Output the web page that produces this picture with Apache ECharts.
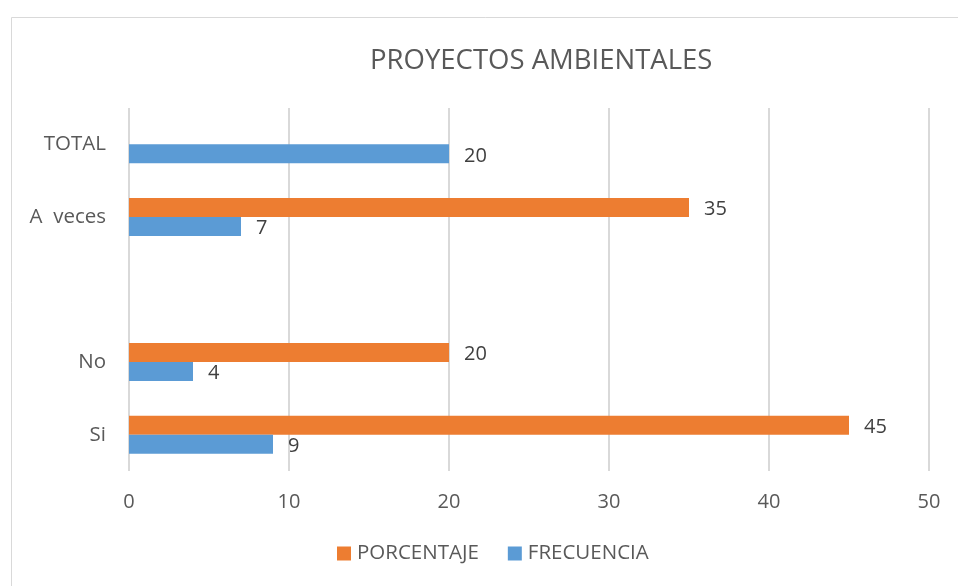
<!DOCTYPE html>
<html>
<head>
<meta charset="utf-8">
<script src="https://cdn.jsdelivr.net/npm/echarts@6/dist/echarts.min.js"></script>
<style>
html,body{margin:0;padding:0;background:#fff;}
#chart{width:958px;height:586px;}
</style>
</head>
<body>
<div id="chart"></div>
<script>
var titleText = 'PROYECTOS AMBIENTALES';
var categories = ['Si', 'No', '', 'A  veces', 'TOTAL'];
var porcentaje = [45, 20, '-', 35, '-'];
var frecuencia = [9, 4, '-', 7, 20];
var xTicks = [0, 10, 20, 30, 40, 50];

var chart = echarts.init(document.getElementById('chart'));
var FONT = 'Open Sans';
var labelCfg = {
  show: true, position: 'right', distance: 15, offset: [0, 2],
  color: '#404040', fontSize: 20, fontFamily: FONT
};
chart.setOption({
  animation: false,
  backgroundColor: '#fff',
  graphic: [{
    type: 'rect', shape: {x: 11.5, y: 17.5, width: 1000, height: 700},
    style: {fill: 'none', stroke: '#d9d9d9', lineWidth: 1}, silent: true
  }],
  title: {
    text: titleText, left: 370, top: 47, padding: 0,
    textStyle: {color: '#595959', fontSize: 27.5, fontWeight: 'normal', fontFamily: FONT}
  },
  legend: {
    data: ['PORCENTAJE', 'FRECUENCIA'],
    bottom: 17, left: 332,
    itemWidth: 14, itemHeight: 14, itemGap: 29, icon: 'rect',
    textStyle: {color: '#595959', fontSize: 20.5, fontFamily: FONT, padding: [0, 0, 0, 1]}
  },
  grid: {left: 129, right: 29, top: 108, bottom: 115, containLabel: false},
  xAxis: {
    type: 'value', min: xTicks[0], max: xTicks[xTicks.length - 1], interval: 10,
    axisLine: {show: false}, axisTick: {show: false},
    axisLabel: {color: '#595959', fontSize: 20, fontFamily: FONT, margin: 21},
    splitLine: {lineStyle: {color: '#d9d9d9', width: 2}}
  },
  yAxis: {
    type: 'category', data: categories,
    axisLine: {show: false}, axisTick: {show: false},
    axisLabel: {color: '#595959', fontSize: 20.5, fontFamily: FONT, margin: 23}
  },
  series: [
    {name: 'PORCENTAJE', type: 'bar', data: porcentaje, barWidth: 19, barGap: '0%',
     itemStyle: {color: '#ED7D31'}, label: labelCfg},
    {name: 'FRECUENCIA', type: 'bar', data: frecuencia, barWidth: 19, barGap: '0%',
     itemStyle: {color: '#5B9BD5'}, label: labelCfg}
  ]
});
</script>
</body>
</html>
